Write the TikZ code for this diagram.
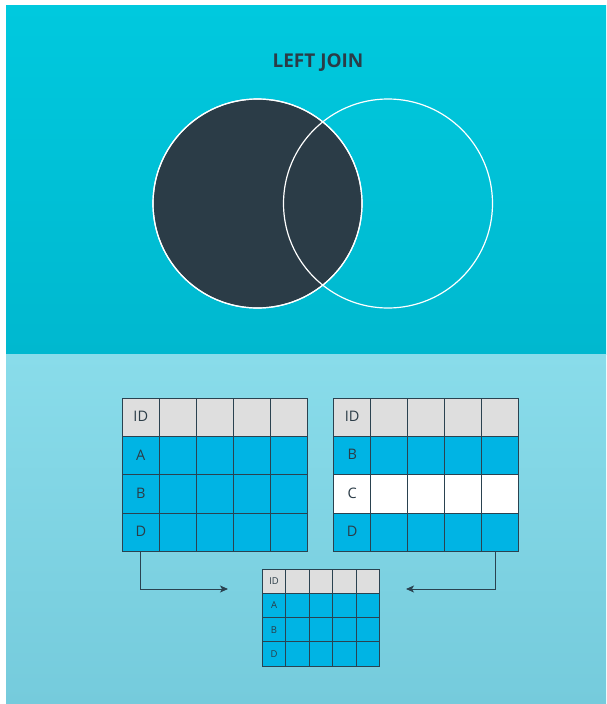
\documentclass[tikz,border=0pt]{standalone}
\usepackage{fontspec}
\setmainfont{Open Sans}
\usepackage{tikz}
\usetikzlibrary{
  arrows.meta,
  positioning,
  calc,
}
\definecolor{topcyan}{HTML}{00C9DE}
\definecolor{topcyandk}{HTML}{00B8CF}
\definecolor{lowblue}{HTML}{89DCEA}
\definecolor{lowbluedk}{HTML}{75CBDC}
\definecolor{venndark}{HTML}{2B3C47}
\definecolor{cellblue}{HTML}{00B4E4}
\definecolor{cellgrey}{HTML}{DEDEDE}
\definecolor{gridline}{HTML}{2A4250}

\begin{document}
\begin{tikzpicture}[x=1pt, y=-1pt,
    vennset/.style={circle, draw=white, line width=1.2pt, inner sep=0pt,
                    minimum size=209pt},
    cell/.style={draw=gridline, line width=0.9pt, inner sep=0pt, outer sep=0pt,
                 minimum width=37pt, minimum height=38.35pt, text=venndark,
                 font=\fontsize{14.5}{14}\selectfont},
    smallcell/.style={cell, minimum width=23.5pt, minimum height=24.3pt,
                      font=\fontsize{9.5}{10}\selectfont},
    link/.style={draw=gridline, line width=0.9pt,
                 -{Stealth[length=8pt,width=7pt,inset=2pt]}},
  ]
  % backdrop
  \fill[white] (0,0) rectangle (606,704);
  \shade[top color=topcyan, bottom color=topcyandk] (6,5) rectangle (606,354.5);
  \shade[top color=lowblue, bottom color=lowbluedk] (6,354.5) rectangle (606,704);

  \node[font=\fontsize{19}{20}\selectfont\bfseries, text=venndark] (title) at (318,63) {LEFT JOIN};

  \node[vennset, fill=venndark] (lset) at (257.5,203.5) {};
  \node[vennset] (rset) at (388,203.5) {};
  \draw[white, line width=1.2pt] (lset.center) circle (104.5pt);

  % left table
  \foreach \r/\lbl/\fillc in {1/ID/cellgrey, 2/A/cellblue, 3/B/cellblue, 4/D/cellblue} {
    \node[cell, fill=\fillc] (lt-\r-1) at (140.8, {378.95+38.35*\r}) {\raisebox{1.5pt}{\lbl}};
    \foreach \c in {2,...,5}
      \node[cell, fill=\fillc] (lt-\r-\c) at ({140.8+37*(\c-1)}, {378.95+38.35*\r}) {};
  }

  % right table
  \foreach \r/\lbl/\fillc in {1/ID/cellgrey, 2/B/cellblue, 3/C/white, 4/D/cellblue} {
    \node[cell, fill=\fillc] (rt-\r-1) at (352.2, {378.95+38.35*\r}) {\raisebox{2.5pt}{\lbl}};
    \foreach \c in {2,...,5}
      \node[cell, fill=\fillc] (rt-\r-\c) at ({352.2+37*(\c-1)}, {378.95+38.35*\r}) {};
  }

  % joined table
  \foreach \r/\lbl/\fillc in {1/ID/cellgrey, 2/A/cellblue, 3/B/cellblue, 4/D/cellblue} {
    \node[smallcell, fill=\fillc] (jt-\r-1) at (274.05, {556.85+24.3*\r}) {\lbl};
    \foreach \c in {2,...,5}
      \node[smallcell, fill=\fillc] (jt-\r-\c) at ({274.05+23.5*(\c-1)}, {556.85+24.3*\r}) {};
  }

  \coordinate (lin) at (228,589);
  \coordinate (rin) at (406,589);
  \draw[link] (lt-4-1.south) |- (lin);
  \draw[link] ([xshift=-5pt]rt-4-5.south) |- (rin);
\end{tikzpicture}
\end{document}
